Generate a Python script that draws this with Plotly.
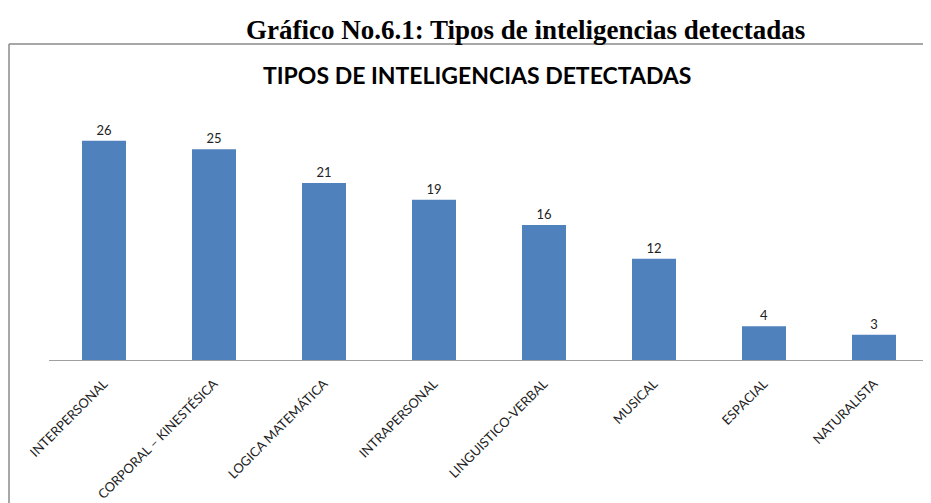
import plotly.graph_objects as go

categories = ["INTERPERSONAL", "CORPORAL – KINESTÉSICA", "LOGICA MATEMÁTICA", "INTRAPERSONAL",
              "LINGUISTICO-VERBAL", "MUSICAL", "ESPACIAL", "NATURALISTA"]
values = [26, 25, 21, 19, 16, 12, 4, 3]

OFF = 8  # page body margin offset
W, H = 931 - OFF, 503 - OFF
ml, mt = 49 - OFF, 107 - OFF
mr = W - (929 - OFF)
mb = H - (360 - OFF)
pw, ph = W - ml - mr, H - mt - mb

def px(x):
    return (x - OFF - ml) / pw

def py(y):
    return (H - mb - (y - OFF)) / ph

fig = go.Figure(go.Bar(
    x=categories, y=values, marker_color="#4F81BD", marker_line_width=0,
    text=[str(v) for v in values], textposition="outside", cliponaxis=False,
    textfont=dict(family="Lato", size=13, color="#222222"),
))

fig.update_layout(
    width=W, height=H, margin=dict(l=ml, r=mr, t=mt, b=mb, autoexpand=False),
    paper_bgcolor="white", plot_bgcolor="white", bargap=0.6, showlegend=False,
    font=dict(family="Lato", color="#222222"),
    xaxis=dict(showline=True, linecolor="#a0a0a0", linewidth=1, tickangle=-45, automargin=False,
               tickfont=dict(family="Lato", size=13, color="#222222"), ticks="",
               ticklabelstandoff=10, showgrid=False),
    yaxis=dict(range=[0, 30], visible=False, showgrid=False, automargin=False),
    shapes=[
        dict(type="line", xref="paper", yref="paper", x0=px(9), x1=px(935), y0=py(44), y1=py(44),
             line=dict(color="#8a8a8a", width=1.5)),
        dict(type="line", xref="paper", yref="paper", x0=px(9), x1=px(9), y0=py(44), y1=py(503),
             line=dict(color="#8a8a8a", width=1.5)),
    ],
    annotations=[
        dict(text="<b>Gráfico No.6.1: Tipos de inteligencias detectadas</b>", xref="paper", yref="paper",
             x=px(525), y=py(30), xanchor="center", yanchor="middle", showarrow=False,
             font=dict(family="Liberation Serif", size=27, color="black")),
        dict(text="<b>TIPOS DE INTELIGENCIAS DETECTADAS</b>", xref="paper", yref="paper",
             x=px(477), y=py(75), xanchor="center", yanchor="middle", showarrow=False,
             font=dict(family="Lato", size=23, color="black")),
    ],
)

fig.write_html(
    "out.html",
    config={"displayModeBar": False},
    post_script="document.documentElement.style.overflow='hidden';document.body.style.overflow='hidden';",
)
